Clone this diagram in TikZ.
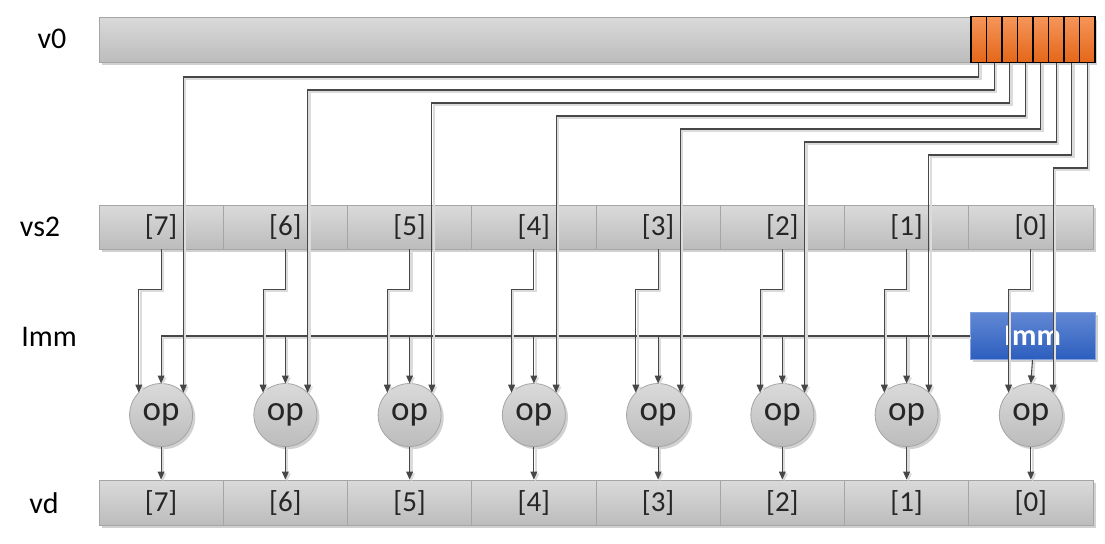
\documentclass[tikz,border=0pt]{standalone}
\usepackage{fontspec}
\setmainfont{Carlito}
\usetikzlibrary{arrows.meta,shadows}
\definecolor{barTop}{RGB}{218,218,218}
\definecolor{barBot}{RGB}{188,188,188}
\definecolor{barEdge}{RGB}{165,165,165}
\definecolor{bitTop}{RGB}{245,150,90}
\definecolor{bitBot}{RGB}{228,102,24}
\definecolor{immTop}{RGB}{98,136,212}
\definecolor{immBot}{RGB}{44,94,190}
\tikzset{
  shade/.style={drop shadow={shadow xshift=1.3pt,shadow yshift=-1.3pt,opacity=0.3,fill=black!60}},
  lane/.style={draw=barEdge,line width=0.4pt,top color=barTop,bottom color=barBot,shade,
    minimum width=62.1pt,minimum height=22pt,inner sep=0pt,text=black!85,font=\fontsize{14.5pt}{16pt}\selectfont},
  bit/.style={draw=black,line width=0.6pt,top color=bitTop,bottom color=bitBot,
    minimum width=7.75pt,minimum height=23pt,inner sep=0pt},
  opnode/.style={circle,draw=barEdge,line width=0.4pt,top color=barTop,bottom color=barBot,shade,
    minimum size=31.5pt,inner sep=0pt,outer sep=0pt,text=black!85,font=\fontsize{17.5pt}{19pt}\selectfont},
  immbox/.style={draw=immTop!80!white,line width=0.4pt,top color=immTop,bottom color=immBot,shade,
    minimum width=62.5pt,minimum height=23.5pt,inner sep=0pt,text=white,font=\fontsize{15pt}{18pt}\selectfont\bfseries},
  tag/.style={font=\fontsize{15pt}{18pt}\selectfont},
  wire/.style={draw=black!72,line width=0.55pt,
    preaction={draw=black!14,line width=1.1pt,transform canvas={xshift=0.9pt,yshift=-0.9pt}}},
  arr/.style={-{Triangle[length=4pt,width=3.4pt]}}
}
\begin{document}
\begin{tikzpicture}[x=0.5pt,y=-0.5pt]
    \useasboundingbox (0,0) rectangle (1105,543);
    % row names
    \node[tag] (tv0)  at (52,39)  {v0};
    \node[tag] (tvs2) at (40,227) {vs2};
    \node[tag] (timm) at (49,337) {Imm};
    \node[tag] (tvd)  at (44,503) {vd};
    % v0 register with the 8 source bits
    \node[lane,minimum width=497.5pt,minimum height=22.5pt] (v0) at (596.5,39.5) {};
    \foreach \i in {0,...,7} {
        \pgfmathtruncatemacro\k{7-\i}
        \node[bit] (b\k) at ({978.7+15.5*\i},39.5) {};
        \node[lane] (s\k) at ({161.1+124.25*\i},227) {[\k]};
        \node[lane,minimum height=22.5pt] (d\k) at ({161.1+124.25*\i},502.5) {[\k]};
        \node[opnode] (op\k) at ({161.1+124.25*\i},415) {op};
    }
    \node[immbox] (imm) at (1032.5,336) {Imm};
    % connections
    \draw[wire] (imm.west) -- (op7.north |- imm.west);
    \draw[wire,arr] (imm.south) -- (op0.north);
    \foreach \i in {0,...,7} {
        \pgfmathtruncatemacro\k{7-\i}
        \pgfmathsetmacro\lv{77+13*\i}
        \draw[wire,arr] (b\k.south) -- (b\k.south |- 0,\lv) -| (op\k.45);
        \draw[wire,arr] (s\k.south) -- ++(0,40) -| (op\k.135);
        \draw[wire,arr] (op\k) -- (d\k);
    }
    \foreach \k in {1,...,7}
        \draw[wire,arr] (op\k.north |- imm.west) -- (op\k.north);
\end{tikzpicture}
\end{document}
